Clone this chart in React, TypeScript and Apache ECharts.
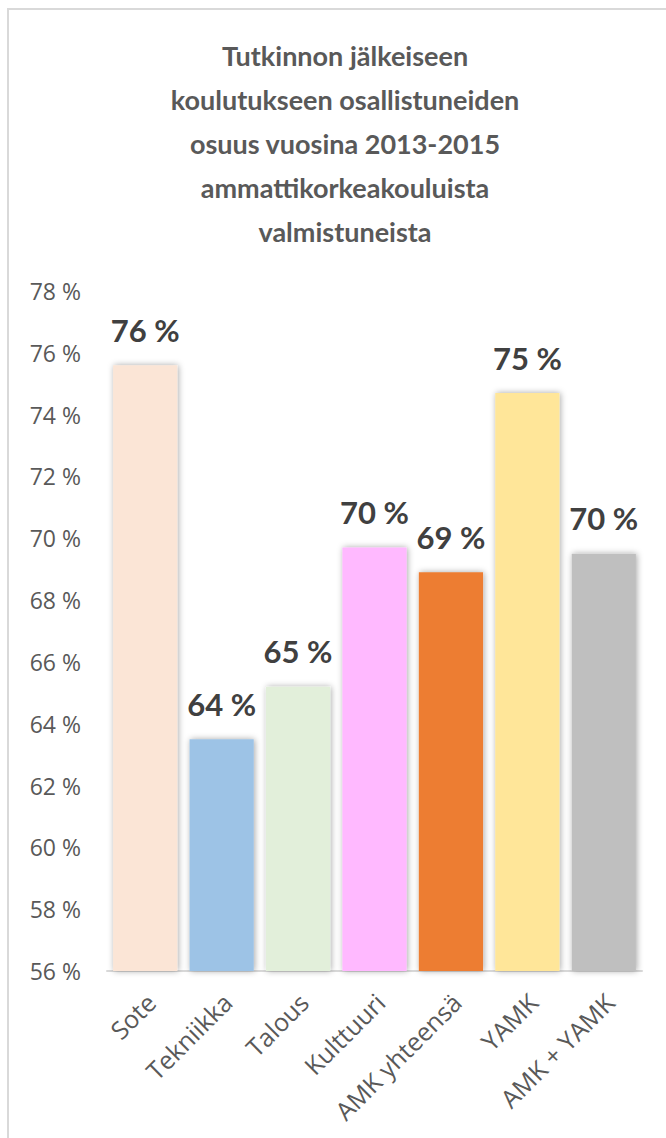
import React, { useEffect, useRef } from "react";
import * as echarts from "echarts";

const categories = ["Sote", "Tekniikka", "Talous", "Kulttuuri", "AMK yhteensä", "YAMK", "AMK + YAMK"];
const values = [75.6, 63.5, 65.2, 69.7, 68.9, 74.7, 69.5];
const barColors = ["#FBE5D6", "#9DC3E6", "#E2EFDA", "#FFB9FF", "#ED7D31", "#FFE699", "#BFBFBF"];
const titleLines = [
  "Tutkinnon jälkeiseen",
  "koulutukseen osallistuneiden",
  "osuus vuosina 2013-2015",
  "ammattikorkeakouluista",
  "valmistuneista",
];
const yMin = 56;
const yMax = 78;
const yStep = 2;

const FONT = "Lato, 'Open Sans', sans-serif";
const FONT_AX = "'Open Sans', Lato, sans-serif";

export default function App() {
  const ref = useRef<HTMLDivElement>(null);
  useEffect(() => {
    if (!ref.current) return;
    const chart = echarts.init(ref.current, undefined, { renderer: "svg" });
    chart.setOption({
      animation: false,
      backgroundColor: "#ffffff",
      title: {
        text: titleLines.join("\n"),
        left: 340,
        top: 28,
        textAlign: "center",
        textStyle: {
          fontFamily: FONT,
          fontWeight: "bold",
          fontSize: 27,
          lineHeight: 44,
          color: "#595959",
        },
      },
      graphic: [
        {
          type: "rect",
          shape: { x: 8, y: 9, width: 800, height: 1300 },
          style: { fill: "none", stroke: "#d9d9d9", lineWidth: 2 },
          silent: true,
          z: -1,
        },
      ],
      grid: { left: 107, right: 24, top: 291, bottom: 167, containLabel: false },
      xAxis: {
        type: "category",
        data: categories,
        axisLine: { show: true, lineStyle: { color: "#d9d9d9", width: 2 } },
        axisTick: { show: false },
        axisLabel: {
          rotate: 45,
          interval: 0,
          margin: 21,
          verticalAlign: "top",
          lineHeight: 16,
          fontFamily: FONT_AX,
          fontSize: 25,
          color: "#595959",
        },
      },
      yAxis: {
        type: "value",
        min: yMin,
        max: yMax,
        interval: yStep,
        axisLine: { show: false },
        axisTick: { show: false },
        splitLine: { show: false },
        axisLabel: {
          margin: 26,
          fontFamily: FONT_AX,
          fontSize: 23,
          color: "#595959",
          formatter: (v: number) => `${v} %`,
        },
      },
      series: [
        {
          type: "bar",
          data: values.map((v, i) => ({ value: v, itemStyle: { color: barColors[i] } })),
          barCategoryGap: "16%",
          itemStyle: {
            shadowColor: "rgba(0,0,0,0.35)",
            shadowBlur: 6,
            shadowOffsetX: 1,
            shadowOffsetY: 0,
          },
          label: {
            show: true,
            position: "top",
            distance: 20,
            fontFamily: FONT,
            fontWeight: "bold",
            fontSize: 31,
            color: "#404040",
            formatter: (p: any) => `${Math.round(p.value)} %`,
          },
        },
      ],
    });
    return () => chart.dispose();
  }, []);
  return (
    <div
      ref={ref}
      style={{ position: "absolute", left: 0, top: 0, width: 666, height: 1138 }}
    />
  );
}
